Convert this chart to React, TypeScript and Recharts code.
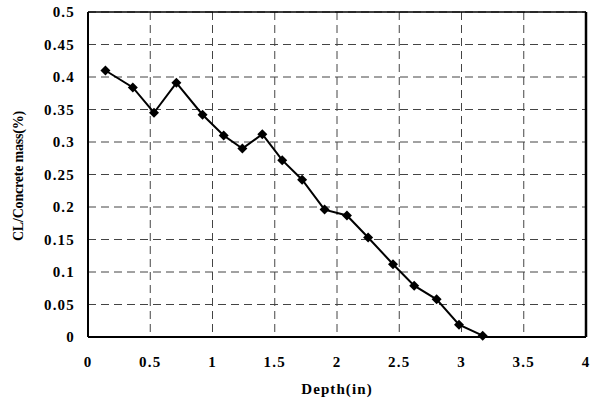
import {
  CartesianGrid,
  Label,
  Line,
  LineChart,
  ReferenceLine,
  XAxis,
  YAxis,
} from 'recharts'

const depth = [0.14, 0.36, 0.53, 0.71, 0.92, 1.09, 1.24, 1.4, 1.56, 1.72, 1.9, 2.08, 2.25, 2.45, 2.62, 2.8, 2.98, 3.17]
const clMass = [0.41, 0.384, 0.345, 0.391, 0.342, 0.31, 0.29, 0.312, 0.272, 0.242, 0.196, 0.187, 0.153, 0.112, 0.079, 0.058, 0.019, 0.002]

const xTicks = [0, 0.5, 1, 1.5, 2, 2.5, 3, 3.5, 4]
const yTicks = [0, 0.05, 0.1, 0.15, 0.2, 0.25, 0.3, 0.35, 0.4, 0.45, 0.5]

const xTitle = 'Depth(in)'
const yTitle = 'CL/Concrete mass(%)'

const data = depth.map((d, i) => ({ depth: d, cl: clMass[i] }))

const font = '"Liberation Serif", "Times New Roman", serif'

function XTick({ x, y, payload }: any) {
  return (
    <text x={x} y={y} dy={10.6} textAnchor="middle" fontFamily={font} fontWeight="bold" fontSize={15} letterSpacing={1.2} fill="#000">
      {String(payload.value)}
    </text>
  )
}

function YTick({ x, y, payload }: any) {
  return (
    <text x={x + 1} y={y} dy={5.3} textAnchor="end" fontFamily={font} fontWeight="bold" fontSize={15} letterSpacing={1.2} fill="#000">
      {String(payload.value)}
    </text>
  )
}

function Diamond({ cx, cy }: any) {
  if (cx == null || cy == null) return null
  return <path d={`M${cx},${cy - 5}L${cx + 5},${cy}L${cx},${cy + 5}L${cx - 5},${cy}Z`} fill="#000" />
}

export default function App() {
  return (
    <div style={{ position: 'absolute', left: 0, top: 0, background: '#fff' }}>
      <LineChart width={590} height={404} data={data} margin={{ top: 12, right: 4, left: 0, bottom: 27 }}>
        <CartesianGrid stroke="#444" strokeDasharray="8 5" strokeWidth={1} />
        <XAxis
          type="number"
          dataKey="depth"
          domain={[0, 4]}
          ticks={xTicks}
          height={40}
          tickSize={0}
          tickMargin={19}
          tick={<XTick />}
          axisLine={{ stroke: '#000', strokeWidth: 2 }}
          tickLine={false}
        >
          <Label
            content={({ viewBox }: any) => (
              <text
                x={viewBox.x + viewBox.width / 2}
                y={viewBox.y + 57}
                textAnchor="middle"
                fontFamily={font}
                fontWeight="bold"
                fontSize={15}
                letterSpacing={1.1}
                fill="#000"
              >
                {xTitle}
              </text>
            )}
          />
        </XAxis>
        <YAxis
          type="number"
          domain={[0, 0.5]}
          ticks={yTicks}
          width={88}
          tickSize={0}
          tickMargin={14}
          tick={<YTick />}
          axisLine={{ stroke: '#000', strokeWidth: 2 }}
          tickLine={false}
        >
          <Label
            content={() => (
              <text
                x={23}
                y={176}
                transform="rotate(-90, 23, 176)"
                textAnchor="middle"
                fontFamily={font}
                fontWeight="bold"
                fontSize={14}
                letterSpacing={-0.2}
                fill="#000"
              >
                {yTitle}
              </text>
            )}
          />
        </YAxis>
        <ReferenceLine y={0.5} stroke="#000" strokeWidth={1.5} />
        <ReferenceLine x={4} stroke="#000" strokeWidth={2.5} />
        <Line
          type="linear"
          dataKey="cl"
          stroke="#000"
          strokeWidth={2}
          dot={<Diamond />}
          activeDot={false}
          isAnimationActive={false}
        />
      </LineChart>
    </div>
  )
}
